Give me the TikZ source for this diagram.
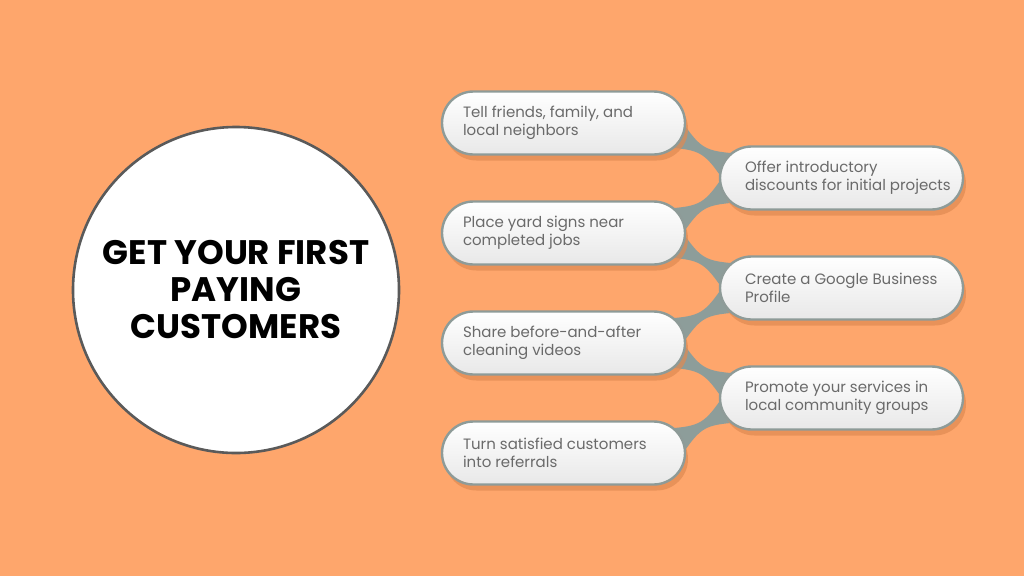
\documentclass[tikz,border=0pt]{standalone}
\usepackage{fontspec}
\setmainfont{Poppins}
\usepackage{xcolor}
\usetikzlibrary{calc,shadows,backgrounds}
\definecolor{bgorange}{HTML}{FEA66C}
\definecolor{shadoworange}{HTML}{E08A52}
\definecolor{rimgray}{HTML}{8E9B98}
\definecolor{neckgray}{HTML}{8D9D9A}
\definecolor{textgray}{HTML}{6A6A6A}
\definecolor{hubrim}{HTML}{5A5A5A}

% neck between a left pill (#1) and a right pill (#2)
\newcommand{\neck}[2]{%
  \coordinate (ca) at ($(#1.east)+(-31.5,0)$);
  \coordinate (cb) at ($(#2.west)+(31.5,0)$);
  \coordinate (pa) at ($(ca)!25pt!(cb)$);
  \coordinate (pb) at ($(cb)!25pt!(ca)$);
  \fill[neckgray] ($(pa)!14pt!90:(cb)$)
    .. controls ($($(pa)!0.45!(pb)$)!1pt!90:(pb)$) and ($($(pa)!0.55!(pb)$)!1pt!90:(pb)$)
    .. ($(pb)!14pt!-90:(ca)$) -- ($(pb)!14pt!90:(ca)$)
    .. controls ($($(pa)!0.55!(pb)$)!1pt!-90:(pb)$) and ($($(pa)!0.45!(pb)$)!1pt!-90:(pb)$)
    .. ($(pa)!14pt!-90:(cb)$) -- cycle;
}

\begin{document}
\begin{tikzpicture}[x=1pt,y=-1pt,
    pill/.style={draw=rimgray,line width=2.4pt,rounded corners=31.5pt,
      minimum width=243pt,minimum height=63pt,inner xsep=21pt,
      text width=201pt,align=flush left,text=textgray,
      top color=white,bottom color=black!9,
      font=\fontsize{15}{18}\selectfont,
      drop shadow={shadow xshift=3pt,shadow yshift=-6pt,fill=shadoworange,opacity=.7}},
    rpill/.style={pill,inner xsep=25pt,text width=193pt},
    hub/.style={circle,draw=hubrim,line width=2.6pt,fill=white,
      minimum size=326pt,inner sep=0pt,align=center,
      font=\fontsize{34}{37}\selectfont\bfseries}]
  \useasboundingbox (0,0) rectangle (1024,576);

  % main circle
  \node[hub] (hub) at (236,290) {GET YOUR FIRST\\PAYING\\CUSTOMERS};

  % left column
  \node[pill] (tell)  at (563.5,123) {Tell friends, family, and\\local neighbors};
  \node[pill] (yard)  at (563.5,233) {Place yard signs near\\completed jobs};
  \node[pill] (share) at (563.5,343) {Share before-and-after\\cleaning videos};
  \node[pill] (turn)  at (563.5,453) {Turn satisfied customers\\into referrals};
  % right column
  \node[rpill] (offer)   at (841.5,178) {Offer introductory\\\mbox{discounts for initial projects}};
  \node[rpill] (google)  at (841.5,288) {\mbox{Create a Google Business}\\Profile};
  \node[rpill] (promote) at (841.5,398) {\mbox{Promote your services in}\\local community groups};

  % background and necks behind the pills
  \begin{scope}[on background layer]
    \fill[bgorange] (0,0) rectangle (1024,576);
    \neck{tell}{offer}
    \neck{yard}{offer}
    \neck{yard}{google}
    \neck{share}{google}
    \neck{share}{promote}
    \neck{turn}{promote}
  \end{scope}
\end{tikzpicture}
\end{document}
